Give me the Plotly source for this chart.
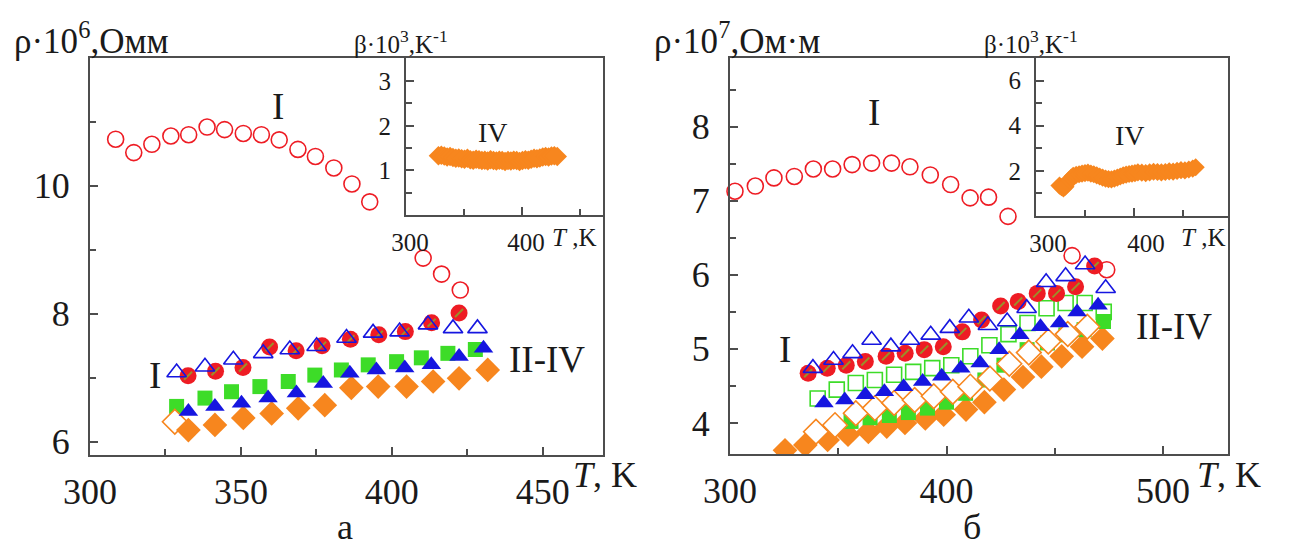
import plotly.graph_objects as go

W, H = 1298, 550

# ---------- panel а : ρ·10^6 vs T ----------
a_I_open_T = [308.5, 314.5, 320.5, 326.8, 332.7, 338.8, 344.6, 350.8, 356.8, 362.7,
              368.9, 374.7, 380.8, 386.8, 392.7, 410.4, 416.5, 422.7]
a_I_open = [10.73, 10.52, 10.65, 10.78, 10.80, 10.92, 10.88, 10.82, 10.80, 10.72,
            10.57, 10.46, 10.28, 10.03, 9.75, 8.87, 8.62, 8.37]

a_I_fill_T = [332.5, 341.6, 350.7, 359.5, 368.3, 376.9, 386.3, 395.7, 404.5, 413.2, 422.3]
a_I_fill = [7.03, 7.10, 7.16, 7.48, 7.42, 7.50, 7.60, 7.67, 7.72, 7.86, 8.01]

a_I_tri_T = [328.7, 338.1, 347.5, 357.4, 366.2, 375.1, 385.0, 393.8, 402.6, 412.0, 420.3, 428.4]
a_I_tri = [7.08, 7.17, 7.28, 7.38, 7.44, 7.49, 7.62, 7.70, 7.72, 7.83, 7.77, 7.77]

a_II_T = [328.7, 338.1, 346.9, 356.3, 365.7, 374.5, 383.3, 392.2, 401.6, 409.8, 418.6, 427.7]
a_II = [6.55, 6.68, 6.78, 6.86, 6.94, 7.04, 7.12, 7.20, 7.25, 7.31, 7.38, 7.44]

a_III_T = [332.6, 341.4, 350.2, 359.0, 368.4, 377.3, 386.1, 394.9, 404.3, 413.1, 422.3, 430.4]
a_III = [6.47, 6.55, 6.60, 6.68, 6.76, 6.91, 7.07, 7.12, 7.15, 7.20, 7.33, 7.46]

a_IV_T = [332.6, 341.4, 350.8, 360.2, 369.0, 377.8, 386.6, 395.5, 404.9, 413.7, 422.3, 431.8]
a_IV = [6.18, 6.26, 6.37, 6.44, 6.52, 6.57, 6.84, 6.86, 6.86, 6.94, 6.99, 7.12]

a_IV_open_T = [328.1]
a_IV_open = [6.31]

# inset а : β·10^3 vs T
a_beta_T = [328, 330.5, 333, 335.5, 338, 340.5, 343, 345.5, 348, 350.5, 353, 355.5, 358, 360.5,
            363, 365.5, 368, 370.5, 373, 375.5, 378, 380.5, 383, 385.5, 388, 390.5, 393, 395.5,
            398, 400.5, 403, 405.5, 408, 410.5, 413, 415.5, 418, 420.5, 423, 425.5, 428, 430.5]
a_beta = [1.33, 1.34, 1.32, 1.30, 1.31, 1.29, 1.27, 1.28, 1.26, 1.25, 1.27, 1.24, 1.23, 1.25,
          1.24, 1.22, 1.23, 1.21, 1.24, 1.22, 1.21, 1.23, 1.22, 1.20, 1.22, 1.21, 1.23, 1.22,
          1.20, 1.22, 1.24, 1.23, 1.25, 1.27, 1.26, 1.28, 1.30, 1.31, 1.30, 1.32, 1.33, 1.31]

# ---------- panel б : ρ·10^7 vs T ----------
b_I_open_T = [302.3, 311.7, 320.3, 329.7, 338.5, 347.4, 356.4, 365.4, 374.6, 383.1,
              392.5, 401.9, 410.9, 419.4, 428.4, 458.0, 474.0]
b_I_open = [7.13, 7.20, 7.31, 7.33, 7.43, 7.43, 7.49, 7.51, 7.51, 7.46,
            7.35, 7.22, 7.04, 7.05, 6.79, 6.26, 6.07]

b_I_fill_T = [336.1, 344.9, 353.7, 362.5, 372.1, 380.9, 389.7, 398.5, 407.3, 416.2,
              425.0, 433.1, 441.9, 450.8, 459.6, 468.4]
b_I_fill = [4.67, 4.74, 4.78, 4.83, 4.90, 4.94, 4.99, 5.03, 5.23, 5.39,
            5.58, 5.64, 5.75, 5.75, 5.84, 6.12]

b_I_tri_T = [338.3, 347.8, 356.6, 365.4, 374.3, 383.1, 392.7, 401.5, 410.3, 419.1,
             428.0, 437.0, 446.0, 455.0, 464.0, 473.5]
b_I_tri = [4.74, 4.85, 4.94, 5.12, 5.03, 5.12, 5.19, 5.28, 5.42, 5.32,
           5.37, 5.55, 5.90, 5.98, 6.14, 5.82]

b_II_open_T = [340.5, 349.3, 358.1, 366.9, 375.8, 384.6, 393.4, 402.2, 411.0, 419.8,
               428.6, 437.4, 446.2, 455.0, 463.8, 472.6]
b_II_open = [4.33, 4.45, 4.54, 4.58, 4.65, 4.69, 4.74, 4.78, 4.90, 5.05,
             5.20, 5.35, 5.55, 5.62, 5.62, 5.50]

b_II_fill_T = [355.9, 364.7, 373.6, 382.4, 391.2, 400.0, 408.8, 417.7, 426.5, 437.2,
               446.6, 455.1, 463.5, 472.5]
b_II_fill = [4.02, 4.07, 4.10, 4.14, 4.20, 4.28, 4.40, 4.58, 4.78, 4.99,
             5.08, 5.19, 5.26, 5.37]

b_III_T = [343.4, 353.0, 362.5, 371.3, 380.2, 389.0, 397.8, 406.6, 415.5, 424.3,
           433.8, 443.4, 452.2, 460.3, 470.0]
b_III = [4.27, 4.31, 4.38, 4.42, 4.49, 4.56, 4.63, 4.74, 4.81, 4.99,
         5.19, 5.30, 5.35, 5.50, 5.59]

b_IV_open_T = [339.7, 348.5, 358.1, 366.9, 375.8, 385.3, 394.1, 402.9, 411.0, 420.0,
               429.0, 438.0, 447.0, 456.0, 465.0]
b_IV_open = [3.88, 3.97, 4.13, 4.20, 4.27, 4.31, 4.36, 4.42, 4.49, 4.60,
             4.80, 4.95, 5.10, 5.20, 5.30]

b_IV_fill_T = [325.4, 334.8, 345.1, 354.5, 363.9, 372.4, 380.8, 390.2, 398.7, 409.0,
               417.5, 426.5, 435.3, 443.8, 453.2, 462.6, 472.0]
b_IV_fill = [3.63, 3.70, 3.77, 3.84, 3.88, 3.95, 4.00, 4.06, 4.11, 4.18,
             4.28, 4.45, 4.62, 4.76, 4.90, 5.03, 5.14]

# inset б : β·10^3 vs T
b_beta_T = [324, 326, 328, 330, 332, 334, 336, 338, 341, 344, 347, 350, 353, 356, 359, 362,
            365, 368, 371, 374, 377, 380, 383, 386, 389, 392, 395, 398, 401, 404, 408, 412,
            416, 420, 424, 428, 432, 436, 440, 444, 448, 452, 456, 460, 463]
b_beta = [1.35, 1.28, 1.22, 1.30, 1.45, 1.60, 1.70, 1.78, 1.82, 1.85, 1.88, 1.90, 1.92, 1.88,
          1.85, 1.80, 1.75, 1.70, 1.66, 1.63, 1.62, 1.66, 1.70, 1.75, 1.80, 1.83, 1.86, 1.88,
          1.90, 1.93, 1.92, 1.90, 1.93, 1.96, 1.95, 1.93, 1.95, 1.98, 1.97, 2.00, 2.03, 2.02,
          2.06, 2.10, 2.16]

FONT = "Liberation Serif"
TXT = "#1a1a1a"
AXIS = "#4d4d4d"
RED = "#ee1c24"
BLUE = "#1616e0"
GREEN = "#3ddc28"
ORANGE = "#f7861e"
OLIVE = "#9a8f2a"

fig = go.Figure()


def pts(x, y, xa, ya, symbol, color, size, style="fill", lw=1.6, clip=True):
    if style == "fill":
        marker = dict(symbol=symbol, size=size, color=color, line=dict(width=0))
    elif style == "open":
        marker = dict(symbol=symbol + "-open", size=size, color=color, line=dict(width=lw))
    else:  # white-filled outline
        marker = dict(symbol=symbol, size=size, color="white", line=dict(color=color, width=lw))
    fig.add_trace(go.Scatter(x=x, y=y, xaxis=xa, yaxis=ya, mode="markers", marker=marker,
                             cliponaxis=clip, hoverinfo="skip", showlegend=False))


# panel а
pts(a_II_T, a_II, "x", "y", "square", GREEN, 15)
pts(a_IV_open_T, a_IV_open, "x", "y", "diamond", ORANGE, 19, style="white")
pts(a_IV_T, a_IV, "x", "y", "diamond", ORANGE, 19)
pts(a_III_T, a_III, "x", "y", "triangle-up", BLUE, 17)
pts(a_I_fill_T, a_I_fill, "x", "y", "circle", RED, 17)
pts(a_I_fill_T, a_I_fill, "x", "y", "line-ne", OLIVE, 8, style="open", lw=2)
pts(a_I_tri_T, a_I_tri, "x", "y", "triangle-up", BLUE, 17, style="open")
pts(a_I_open_T, a_I_open, "x", "y", "circle", RED, 16, style="open")
pts(a_beta_T, a_beta, "x2", "y2", "diamond", ORANGE, 15)

# panel б
pts(b_IV_fill_T, b_IV_fill, "x3", "y3", "diamond", ORANGE, 19)
pts(b_II_fill_T, b_II_fill, "x3", "y3", "square", GREEN, 15)
pts(b_IV_open_T, b_IV_open, "x3", "y3", "diamond", ORANGE, 19, style="white")
pts(b_II_open_T, b_II_open, "x3", "y3", "square", GREEN, 15, style="open")
pts(b_III_T, b_III, "x3", "y3", "triangle-up", BLUE, 17)
pts(b_I_fill_T, b_I_fill, "x3", "y3", "circle", RED, 17)
pts(b_I_fill_T, b_I_fill, "x3", "y3", "line-ne", OLIVE, 8, style="open", lw=2)
pts(b_I_tri_T, b_I_tri, "x3", "y3", "triangle-up", BLUE, 17, style="open")
pts(b_I_open_T, b_I_open, "x3", "y3", "circle", RED, 16, style="open", clip=False)
pts(b_beta_T, b_beta, "x4", "y4", "diamond", ORANGE, 14)


def axis(domain, rng, ticks, minor, anchor, size, standoff=4, shift=0, mirror=True):
    return dict(domain=domain, range=rng, anchor=anchor, automargin=False,
                tickvals=ticks, ticktext=[f"{v:g}" for v in ticks],
                ticks="inside", ticklen=8, tickwidth=2, tickcolor=AXIS,
                showline=True, linewidth=2, linecolor=AXIS, mirror=mirror,
                showgrid=False, zeroline=False,
                tickfont=dict(family=FONT, size=size, color=TXT),
                ticklabelstandoff=standoff, ticklabelshift=shift,
                minor=dict(tickvals=minor, ticks="inside", ticklen=6, tickwidth=2,
                           tickcolor=AXIS, showgrid=False))


def top_ticks(over, anchor, rng, vals):
    # short marks along the upper edge of an inset
    return dict(overlaying=over, anchor=anchor, side="top", range=rng, automargin=False,
                tickvals=vals, showticklabels=False, ticks="inside", ticklen=6,
                tickwidth=2, tickcolor=AXIS, showline=False, showgrid=False, zeroline=False)


def dx(p):
    return p / W


def dy(p):
    return 1 - p / H


TOP = dy(58)

fig.update_layout(
    width=W, height=H, margin=dict(l=0, r=0, t=0, b=0, autoexpand=False),
    paper_bgcolor="white", plot_bgcolor="white",
    font=dict(family=FONT, color=TXT),
    xaxis=axis([dx(90), dx(603)], [300, 470], [300, 350, 400, 450], [325, 375, 425], "y", 36),
    yaxis=axis([dy(455), TOP], [5.79, 12.0], [6, 8, 10], [7, 9, 11], "x", 36, standoff=11),
    xaxis2=axis([dx(406), dx(603)], [300, 470], [300, 400], [350, 450], "y2", 25, shift=4),
    yaxis2=axis([dy(215), TOP], [0, 3.52], [1, 2, 3], [0.5, 1.5, 2.5], "x2", 25, standoff=8),
    xaxis3=axis([dx(730), dx(1228)], [300, 530], [300, 400, 500], [350, 450], "y3", 36),
    yaxis3=axis([dy(454), TOP], [3.58, 8.93], [4, 5, 6, 7, 8], [4.5, 5.5, 6.5, 7.5, 8.5],
                "x3", 36, standoff=11),
    xaxis4=axis([dx(1036), dx(1228)], [300, 496], [300, 400], [350, 450], "y4", 25, shift=12),
    yaxis4=axis([dy(216), TOP], [0, 7], [2, 4, 6], [1, 3, 5], "x4", 25, standoff=8),
    xaxis5=top_ticks("x2", "y2", [300, 470], [350, 450]),
    xaxis6=top_ticks("x4", "y4", [300, 496], [350, 450]),
)


def note(text, x, y, xref="paper", yref="paper", size=36, xanchor="center", yanchor="middle"):
    fig.add_annotation(text=text, x=x, y=y, xref=xref, yref=yref, showarrow=False,
                       font=dict(family=FONT, size=size, color=TXT),
                       xanchor=xanchor, yanchor=yanchor)


# axis titles
note("ρ·10<sup>6</sup>,Омм", dx(12), dy(38), size=35, xanchor="left")
note("β·10<sup>3</sup>,K<sup>-1</sup>", dx(401), dy(42), size=25)
note("<i>T</i>, K", dx(571), dy(475), xanchor="left")
note("<i>T</i> ,K", dx(550), dy(237), size=25, xanchor="left")

note("ρ·10<sup>7</sup>,Ом·м", dx(652), dy(38), size=35, xanchor="left")
note("β·10<sup>3</sup>,K<sup>-1</sup>", dx(1031), dy(42), size=25)
note("<i>T</i>, K", dx(1195), dy(475), xanchor="left")
note("<i>T</i> ,K", dx(1179), dy(237), size=25, xanchor="left")

# curve labels
note("I", 362.2, 11.24, "x", "y", size=37)
note("I", 321.6, 7.04, "x", "y", size=37)
note("II-IV", 451.4, 7.28, "x", "y", size=37)
note("IV", 375, 1.86, "x2", "y2", size=28)

note("I", 366.7, 8.19, "x3", "y3", size=37)
note("I", 325.4, 4.99, "x3", "y3", size=37)
note("II-IV", 504.9, 5.30, "x3", "y3", size=37)
note("IV", 395.8, 3.57, "x4", "y4", size=28)

# panel captions
note("а", dx(345), dy(527))
note("б", dx(972), dy(527))

fig.write_html("out.html")
